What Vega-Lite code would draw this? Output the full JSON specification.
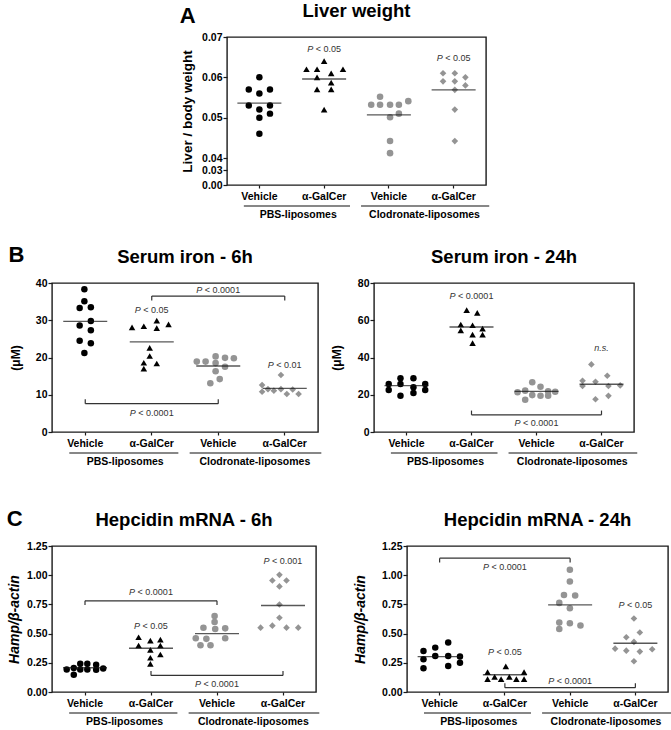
{
"$schema": "https://vega.github.io/schema/vega-lite/v6.json",
"background": "white",
"padding": {"left": 6, "top": 0, "right": 0, "bottom": 0},
"datasets": {
"strip": [{"x1":0.76,"x2":2.4,"xm":1.6,"label":"PBS-liposomes"},{"x1":2.57,"x2":4.55,"xm":3.55,"label":"Clodronate-liposomes"}],
"A_pts": [
{"g":"1","j":0,"v":0.060},{"g":"1","j":-1.8,"v":0.057},{"g":"1","j":1.8,"v":0.057},{"g":"1","j":0,"v":0.056},{"g":"1","j":-1.8,"v":0.053},{"g":"1","j":1.8,"v":0.053},{"g":"1","j":0,"v":0.052},{"g":"1","j":1.8,"v":0.051},{"g":"1","j":0,"v":0.050},{"g":"1","j":0,"v":0.046},
{"g":"2","j":0,"v":0.064},{"g":"2","j":-3,"v":0.062},{"g":"2","j":-1.2,"v":0.062},{"g":"2","j":3.2,"v":0.062},{"g":"2","j":-1.2,"v":0.060},{"g":"2","j":1.2,"v":0.061},{"g":"2","j":1.2,"v":0.0587},{"g":"2","j":-1.2,"v":0.057},{"g":"2","j":1.2,"v":0.057},{"g":"2","j":0,"v":0.052},
{"g":"3","j":-1.5,"v":0.0552},{"g":"3","j":-3,"v":0.0532},{"g":"3","j":-1.5,"v":0.0532},{"g":"3","j":0.2,"v":0.0532},{"g":"3","j":1.7,"v":0.0532},{"g":"3","j":3.3,"v":0.0541},{"g":"3","j":0.2,"v":0.0501},{"g":"3","j":1.7,"v":0.0510},{"g":"3","j":0.2,"v":0.0442},{"g":"3","j":0.2,"v":0.0412},
{"g":"4","j":-1.8,"v":0.061},{"g":"4","j":0.2,"v":0.061},{"g":"4","j":2,"v":0.060},{"g":"4","j":-1.8,"v":0.059},{"g":"4","j":0.2,"v":0.059},{"g":"4","j":2,"v":0.058},{"g":"4","j":0.2,"v":0.0569},{"g":"4","j":0.2,"v":0.052},{"g":"4","j":0.2,"v":0.0442}],
"A_mean": [{"g":"1","m":0.0536},{"g":"2","m":0.0596},{"g":"3","m":0.0507},{"g":"4","m":0.0569}],
"A_ann": [{"g":"2","y":0.0670,"t":"< 0.05"},{"g":"4","y":0.0649,"t":"< 0.05"}],
"BL_pts": [
{"g":"1","j":0,"v":38.3},{"g":"1","j":0,"v":35.1},{"g":"1","j":-0.8,"v":33.3},{"g":"1","j":1.1,"v":33.5},{"g":"1","j":1.1,"v":29.8},{"g":"1","j":-0.8,"v":28.6},{"g":"1","j":1.1,"v":27.3},{"g":"1","j":-0.8,"v":24.5},{"g":"1","j":1.1,"v":23.8},{"g":"1","j":0,"v":21.2},
{"g":"2","j":-3.2,"v":28.1},{"g":"2","j":-1.2,"v":28.4},{"g":"2","j":1,"v":29.9},{"g":"2","j":1,"v":27.9},{"g":"2","j":3,"v":28.9},{"g":"2","j":-0.2,"v":22.6},{"g":"2","j":-0.2,"v":20.4},{"g":"2","j":-1.2,"v":18.6},{"g":"2","j":1,"v":18.4},{"g":"2","j":-1.2,"v":17.0},
{"g":"3","j":-3.5,"v":18.9},{"g":"3","j":-2,"v":18.9},{"g":"3","j":-0.3,"v":20.3},{"g":"3","j":-0.3,"v":18.5},{"g":"3","j":1.3,"v":19.9},{"g":"3","j":2.8,"v":19.8},{"g":"3","j":1.3,"v":17.5},{"g":"3","j":-0.3,"v":16.3},{"g":"3","j":-1.2,"v":13.1},{"g":"3","j":0.4,"v":14.2},
{"g":"4","j":-0.5,"v":15.3},{"g":"4","j":-3.7,"v":12.6},{"g":"4","j":-3.7,"v":10.8},{"g":"4","j":-2.7,"v":11.5},{"g":"4","j":-1.7,"v":11.1},{"g":"4","j":-0.5,"v":11.5},{"g":"4","j":0.5,"v":10.2},{"g":"4","j":1.5,"v":11.4},{"g":"4","j":2.5,"v":10.2}],
"BL_mean": [{"g":"1","m":29.7},{"g":"2","m":24.2},{"g":"3","m":17.7},{"g":"4","m":11.7}],
"BL_ann": [{"g":"2","y":32.8,"t":"< 0.05"},{"g":"4","y":18.0,"t":"< 0.01"},{"g":"3","y":38.0,"t":"< 0.0001"},{"g":"2","y":5.2,"t":"< 0.0001"}],
"BL_br": [{"a":"2","b":"4","y":36.5,"tip":35.3},{"a":"1","b":"3","y":7.6,"tip":8.8}],
"BR_pts": [
{"g":"1","j":-3,"v":25.8},{"g":"1","j":-3,"v":22.5},{"g":"1","j":-1,"v":28.8},{"g":"1","j":-1,"v":25.8},{"g":"1","j":-1,"v":19.5},{"g":"1","j":1.2,"v":28.8},{"g":"1","j":1.2,"v":24.0},{"g":"1","j":1.2,"v":20.9},{"g":"1","j":3.2,"v":25.8},{"g":"1","j":3.2,"v":22.5},
{"g":"2","j":-0.8,"v":65.4},{"g":"2","j":1,"v":64.0},{"g":"2","j":-1.8,"v":57.7},{"g":"2","j":0.2,"v":57.3},{"g":"2","j":-1.8,"v":54.6},{"g":"2","j":1.9,"v":55.5},{"g":"2","j":0.2,"v":52.3},{"g":"2","j":1.9,"v":52.3},{"g":"2","j":0.2,"v":47.7},
{"g":"3","j":-3.2,"v":21.3},{"g":"3","j":-1.9,"v":22.2},{"g":"3","j":-0.7,"v":26.7},{"g":"3","j":0.7,"v":24.3},{"g":"3","j":2,"v":21.8},{"g":"3","j":3.2,"v":21.6},{"g":"3","j":-1.9,"v":17.3},{"g":"3","j":-0.7,"v":19.8},{"g":"3","j":0.7,"v":19.5},{"g":"3","j":2,"v":19.5},
{"g":"4","j":-1.7,"v":36.3},{"g":"4","j":1,"v":30.2},{"g":"4","j":-3.2,"v":27.5},{"g":"4","j":-1,"v":27.0},{"g":"4","j":-3.2,"v":24.7},{"g":"4","j":1.2,"v":24.7},{"g":"4","j":3.2,"v":25.0},{"g":"4","j":-1,"v":17.6},{"g":"4","j":1.2,"v":19.4}],
"BR_mean": [{"g":"1","m":24.9},{"g":"2","m":56.4},{"g":"3","m":21.8},{"g":"4","m":25.6}],
"BR_ann": [{"g":"2","y":73.2,"t":"< 0.0001"},{"g":"4","y":45.0,"t":"n.s."},{"g":"3","y":5.0,"t":"< 0.0001"}],
"BR_br": [{"a":"2","b":"4","y":9.2,"tip":11.5}],
"CL_pts": [
{"g":"1","j":-3,"v":0.193},{"g":"1","j":-1.8,"v":0.205},{"g":"1","j":-1.8,"v":0.148},{"g":"1","j":-0.7,"v":0.241},{"g":"1","j":-0.7,"v":0.193},{"g":"1","j":0.5,"v":0.241},{"g":"1","j":0.5,"v":0.193},{"g":"1","j":2,"v":0.233},{"g":"1","j":2,"v":0.19},{"g":"1","j":3.2,"v":0.202},
{"g":"2","j":-2,"v":0.469},{"g":"2","j":0,"v":0.440},{"g":"2","j":1.7,"v":0.449},{"g":"2","j":-2,"v":0.398},{"g":"2","j":1.7,"v":0.398},{"g":"2","j":0,"v":0.361},{"g":"2","j":1.7,"v":0.321},{"g":"2","j":0,"v":0.293},{"g":"2","j":0,"v":0.241},
{"g":"3","j":-0.3,"v":0.65},{"g":"3","j":-0.3,"v":0.60},{"g":"3","j":-2.2,"v":0.55},{"g":"3","j":-0.2,"v":0.54},{"g":"3","j":1.5,"v":0.545},{"g":"3","j":-3.5,"v":0.46},{"g":"3","j":-1.7,"v":0.455},{"g":"3","j":1.5,"v":0.46},{"g":"3","j":-2.7,"v":0.40},{"g":"3","j":-1,"v":0.40},
{"g":"4","j":-0.5,"v":1.003},{"g":"4","j":-1.7,"v":0.955},{"g":"4","j":0.7,"v":0.955},{"g":"4","j":-0.5,"v":0.904},{"g":"4","j":-0.5,"v":0.749},{"g":"4","j":-0.5,"v":0.636},{"g":"4","j":-1.7,"v":0.568},{"g":"4","j":-3.7,"v":0.551},{"g":"4","j":0.7,"v":0.551},{"g":"4","j":2.7,"v":0.551}],
"CL_mean": [{"g":"1","m":0.207},{"g":"2","m":0.375},{"g":"3","m":0.50},{"g":"4","m":0.74}],
"CL_ann": [{"g":"2","y":0.5625,"t":"< 0.05"},{"g":"4","y":1.119,"t":"< 0.001"},{"g":"2","y":0.852,"t":"< 0.0001"},{"g":"3","y":0.065,"t":"< 0.0001"}],
"CL_br": [{"a":"1","b":"3","y":0.781,"tip":0.744},{"a":"2","b":"4","y":0.142,"tip":0.179}],
"CR_pts": [
{"g":"1","j":-2.7,"v":0.351},{"g":"1","j":-0.7,"v":0.38},{"g":"1","j":1.5,"v":0.423},{"g":"1","j":-2.7,"v":0.28},{"g":"1","j":-0.7,"v":0.309},{"g":"1","j":1.5,"v":0.309},{"g":"1","j":3.5,"v":0.303},{"g":"1","j":-2.7,"v":0.203},{"g":"1","j":1.5,"v":0.223},{"g":"1","j":3.5,"v":0.251},
{"g":"2","j":-2.9,"v":0.17},{"g":"2","j":-2.9,"v":0.11},{"g":"2","j":-1.7,"v":0.13},{"g":"2","j":-0.6,"v":0.11},{"g":"2","j":0.2,"v":0.22},{"g":"2","j":0.8,"v":0.13},{"g":"2","j":2,"v":0.11},{"g":"2","j":3.3,"v":0.17},{"g":"2","j":3.3,"v":0.11},
{"g":"3","j":0,"v":1.046},{"g":"3","j":0,"v":0.946},{"g":"3","j":-1,"v":0.831},{"g":"3","j":0.9,"v":0.826},{"g":"3","j":-1.8,"v":0.763},{"g":"3","j":0,"v":0.717},{"g":"3","j":-1.8,"v":0.594},{"g":"3","j":0,"v":0.589},{"g":"3","j":1.8,"v":0.569},{"g":"3","j":-1.8,"v":0.54},
{"g":"4","j":-0.2,"v":0.629},{"g":"4","j":-1.5,"v":0.469},{"g":"4","j":0.8,"v":0.509},{"g":"4","j":-0.2,"v":0.429},{"g":"4","j":-3.4,"v":0.371},{"g":"4","j":-1.5,"v":0.354},{"g":"4","j":0.8,"v":0.346},{"g":"4","j":2.9,"v":0.366},{"g":"4","j":-0.2,"v":0.263}],
"CR_mean": [{"g":"1","m":0.303},{"g":"2","m":0.148},{"g":"3","m":0.746},{"g":"4","m":0.417}],
"CR_ann": [{"g":"2","y":0.346,"t":"< 0.05"},{"g":"4","y":0.743,"t":"< 0.05"},{"g":"2","y":1.066,"t":"< 0.0001"},{"g":"3","y":0.094,"t":"< 0.0001"}],
"CR_br": [{"a":"1","b":"3","y":1.146,"tip":1.109},{"a":"2","b":"4","y":0.037,"tip":0.074}]
},
"spacing": 22,
"vconcat": [
{"spacing": 0, "hconcat": [
 {"width": 127, "height": 10, "data": {"values": []}, "mark": "point", "view": {"stroke": null, "fill": "#ffffff"}},
 {"title": {"text": "A", "anchor": "start", "frame": "bounds", "fontSize": 22, "dy": 27, "offset": 0}, "spacing": 0, "vconcat": [
  {"width": 259, "height": 148, "title": {"text": "Liver weight"}, "layer": [
   {"data": {"name": "A_pts"}, "mark": {"type": "point", "filled": true, "opacity": 1},
    "encoding": {
     "x": {"field": "g", "type": "nominal", "scale": {"domain": ["1","2","3","4"], "paddingInner": 0, "paddingOuter": 0}, "axis": {"title": null, "labelAngle": 0, "bandPosition": 0.5, "labelExpr": "datum.value=='1'||datum.value=='3'?'Vehicle':'α-GalCer'"}},
     "xOffset": {"field": "j", "type": "quantitative", "scale": {"domain": [-5.5, 5.5]}},
     "y": {"field": "v", "type": "quantitative", "scale": {"domain": [0, 0.03, 0.04, 0.07], "range": [148, 133, 121, 0], "nice": false, "zero": false}, "axis": {"values": [0, 0.03, 0.04, 0.05, 0.06, 0.07], "tickCount": 20, "format": ".2f", "labelOverlap": false, "title": "Liver / body weight", "titleFontSize": 13.5, "titlePadding": 7}},
     "shape": {"field": "g", "type": "nominal", "scale": {"domain": ["1","2","3","4"], "range": ["circle","triangle-up","circle","diamond"]}, "legend": null},
     "color": {"field": "g", "type": "nominal", "scale": {"domain": ["1","2","3","4"], "range": ["#000000","#000000","#949494","#949494"]}, "legend": null},
     "size": {"field": "g", "type": "ordinal", "scale": {"domain": ["1","2","3","4"], "range": [42, 44, 42, 34]}, "legend": null}}},
   {"data": {"name": "A_mean"}, "mark": {"type": "tick", "color": "#111", "thickness": 1.4, "size": 44}, "encoding": {"x": {"field": "g", "type": "nominal"}, "y": {"field": "m", "type": "quantitative"}}},
   {"data": {"name": "A_ann"}, "transform": [{"filter": "length(datum.t)==6"}], "mark": {"type": "text", "style": "pv", "text": "P", "dx": -10.9}, "encoding": {"x": {"field": "g", "type": "nominal"}, "y": {"field": "y", "type": "quantitative"}}},
   {"data": {"name": "A_ann"}, "transform": [{"filter": "length(datum.t)==6"}], "mark": {"type": "text", "style": "pr", "dx": -8.4}, "encoding": {"x": {"field": "g", "type": "nominal"}, "y": {"field": "y", "type": "quantitative"}, "text": {"field": "t"}}}
  ]},
  {"width": 259, "height": 18, "data": {"name": "strip"}, "view": {"stroke": null, "fill": "#ffffff"}, "layer": [
   {"mark": {"type": "rule", "color": "#111", "strokeWidth": 1.2}, "encoding": {"x": {"field": "x1", "type": "quantitative", "scale": {"domain": [0.5, 4.5], "nice": false, "zero": false}, "axis": null}, "x2": {"field": "x2"}, "y": {"datum": 0.833, "type": "quantitative", "scale": {"domain": [0, 1]}, "axis": null}}},
   {"mark": {"type": "text", "fontWeight": "bold", "fontSize": 10.5, "baseline": "middle", "color": "#000"}, "encoding": {"x": {"field": "xm", "type": "quantitative"}, "y": {"datum": 0.333, "type": "quantitative"}, "text": {"field": "label"}}}
  ]}
 ]}
]},
{"spacing": 39, "vconcat": [
{"spacing": 7, "hconcat": [
 {"title": {"text": "B", "anchor": "start", "frame": "bounds", "fontSize": 22, "dy": 20, "offset": 0}, "spacing": 0, "vconcat": [
  {"width": 266, "height": 149, "title": {"text": "Serum iron - 6h"}, "layer": [
   {"data": {"name": "BL_pts"}, "mark": {"type": "point", "filled": true, "opacity": 1},
    "encoding": {
     "x": {"field": "g", "type": "nominal", "scale": {"domain": ["1","2","3","4"], "paddingInner": 0, "paddingOuter": 0}, "axis": {"title": null, "labelAngle": 0, "bandPosition": 0.5, "labelExpr": "datum.value=='1'||datum.value=='3'?'Vehicle':'α-GalCer'"}},
     "xOffset": {"field": "j", "type": "quantitative", "scale": {"domain": [-5.5, 5.5]}},
     "y": {"field": "v", "type": "quantitative", "scale": {"domain": [0, 40], "nice": false}, "axis": {"values": [0, 10, 20, 30, 40], "tickCount": 20, "labelOverlap": false, "title": "(μM)", "titleFontSize": 12, "titlePadding": 13}},
     "shape": {"field": "g", "type": "nominal", "scale": {"domain": ["1","2","3","4"], "range": ["circle","triangle-up","circle","diamond"]}, "legend": null},
     "color": {"field": "g", "type": "nominal", "scale": {"domain": ["1","2","3","4"], "range": ["#000000","#000000","#949494","#949494"]}, "legend": null},
     "size": {"field": "g", "type": "ordinal", "scale": {"domain": ["1","2","3","4"], "range": [42, 44, 42, 34]}, "legend": null}}},
   {"data": {"name": "BL_mean"}, "mark": {"type": "tick", "color": "#111", "thickness": 1.4, "size": 44}, "encoding": {"x": {"field": "g", "type": "nominal"}, "y": {"field": "m", "type": "quantitative"}}},
   {"data": {"name": "BL_br"}, "mark": {"type": "rule", "color": "#333", "strokeWidth": 1.2}, "encoding": {"x": {"field": "a", "type": "nominal"}, "x2": {"field": "b"}, "y": {"field": "y", "type": "quantitative"}}},
   {"data": {"name": "BL_br"}, "mark": {"type": "rule", "color": "#333", "strokeWidth": 1.2}, "encoding": {"x": {"field": "a", "type": "nominal"}, "y": {"field": "y", "type": "quantitative"}, "y2": {"field": "tip"}}},
   {"data": {"name": "BL_br"}, "mark": {"type": "rule", "color": "#333", "strokeWidth": 1.2}, "encoding": {"x": {"field": "b", "type": "nominal"}, "y": {"field": "y", "type": "quantitative"}, "y2": {"field": "tip"}}},
   {"data": {"name": "BL_ann"}, "transform": [{"filter": "length(datum.t)==6"}], "mark": {"type": "text", "style": "pv", "text": "P", "dx": -10.9}, "encoding": {"x": {"field": "g", "type": "nominal"}, "y": {"field": "y", "type": "quantitative"}}},
   {"data": {"name": "BL_ann"}, "transform": [{"filter": "length(datum.t)==6"}], "mark": {"type": "text", "style": "pr", "dx": -8.4}, "encoding": {"x": {"field": "g", "type": "nominal"}, "y": {"field": "y", "type": "quantitative"}, "text": {"field": "t"}}},
   {"data": {"name": "BL_ann"}, "transform": [{"filter": "length(datum.t)==8"}], "mark": {"type": "text", "style": "pv", "text": "P", "dx": -15.9}, "encoding": {"x": {"field": "g", "type": "nominal"}, "y": {"field": "y", "type": "quantitative"}}},
   {"data": {"name": "BL_ann"}, "transform": [{"filter": "length(datum.t)==8"}], "mark": {"type": "text", "style": "pr", "dx": -13.4}, "encoding": {"x": {"field": "g", "type": "nominal"}, "y": {"field": "y", "type": "quantitative"}, "text": {"field": "t"}}}
  ]},
  {"width": 266, "height": 18, "data": {"name": "strip"}, "view": {"stroke": null, "fill": "#ffffff"}, "layer": [
   {"mark": {"type": "rule", "color": "#111", "strokeWidth": 1.2}, "encoding": {"x": {"field": "x1", "type": "quantitative", "scale": {"domain": [0.5, 4.5], "nice": false, "zero": false}, "axis": null}, "x2": {"field": "x2"}, "y": {"datum": 0.833, "type": "quantitative", "scale": {"domain": [0, 1]}, "axis": null}}},
   {"mark": {"type": "text", "fontWeight": "bold", "fontSize": 10.5, "baseline": "middle", "color": "#000"}, "encoding": {"x": {"field": "xm", "type": "quantitative"}, "y": {"datum": 0.333, "type": "quantitative"}, "text": {"field": "label"}}}
  ]}
 ]},
 {"spacing": 0, "vconcat": [
  {"width": 260, "height": 149, "title": {"text": "Serum iron - 24h"}, "layer": [
   {"data": {"name": "BR_pts"}, "mark": {"type": "point", "filled": true, "opacity": 1},
    "encoding": {
     "x": {"field": "g", "type": "nominal", "scale": {"domain": ["1","2","3","4"], "paddingInner": 0, "paddingOuter": 0}, "axis": {"title": null, "labelAngle": 0, "bandPosition": 0.5, "labelExpr": "datum.value=='1'||datum.value=='3'?'Vehicle':'α-GalCer'"}},
     "xOffset": {"field": "j", "type": "quantitative", "scale": {"domain": [-5.5, 5.5]}},
     "y": {"field": "v", "type": "quantitative", "scale": {"domain": [0, 80], "nice": false}, "axis": {"values": [0, 20, 40, 60, 80], "tickCount": 20, "labelOverlap": false, "title": "(μM)", "titleFontSize": 12, "titlePadding": 14}},
     "shape": {"field": "g", "type": "nominal", "scale": {"domain": ["1","2","3","4"], "range": ["circle","triangle-up","circle","diamond"]}, "legend": null},
     "color": {"field": "g", "type": "nominal", "scale": {"domain": ["1","2","3","4"], "range": ["#000000","#000000","#949494","#949494"]}, "legend": null},
     "size": {"field": "g", "type": "ordinal", "scale": {"domain": ["1","2","3","4"], "range": [42, 44, 42, 34]}, "legend": null}}},
   {"data": {"name": "BR_mean"}, "mark": {"type": "tick", "color": "#111", "thickness": 1.4, "size": 44}, "encoding": {"x": {"field": "g", "type": "nominal"}, "y": {"field": "m", "type": "quantitative"}}},
   {"data": {"name": "BR_br"}, "mark": {"type": "rule", "color": "#333", "strokeWidth": 1.2}, "encoding": {"x": {"field": "a", "type": "nominal"}, "x2": {"field": "b"}, "y": {"field": "y", "type": "quantitative"}}},
   {"data": {"name": "BR_br"}, "mark": {"type": "rule", "color": "#333", "strokeWidth": 1.2}, "encoding": {"x": {"field": "a", "type": "nominal"}, "y": {"field": "y", "type": "quantitative"}, "y2": {"field": "tip"}}},
   {"data": {"name": "BR_br"}, "mark": {"type": "rule", "color": "#333", "strokeWidth": 1.2}, "encoding": {"x": {"field": "b", "type": "nominal"}, "y": {"field": "y", "type": "quantitative"}, "y2": {"field": "tip"}}},
   {"data": {"name": "BR_ann"}, "transform": [{"filter": "length(datum.t)==8"}], "mark": {"type": "text", "style": "pv", "text": "P", "dx": -15.9}, "encoding": {"x": {"field": "g", "type": "nominal"}, "y": {"field": "y", "type": "quantitative"}}},
   {"data": {"name": "BR_ann"}, "transform": [{"filter": "length(datum.t)==8"}], "mark": {"type": "text", "style": "pr", "dx": -13.4}, "encoding": {"x": {"field": "g", "type": "nominal"}, "y": {"field": "y", "type": "quantitative"}, "text": {"field": "t"}}},
   {"data": {"name": "BR_ann"}, "transform": [{"filter": "datum.t=='n.s.'"}], "mark": {"type": "text", "style": "ns"}, "encoding": {"x": {"field": "g", "type": "nominal"}, "y": {"field": "y", "type": "quantitative"}, "text": {"field": "t"}}}
  ]},
  {"width": 260, "height": 18, "data": {"name": "strip"}, "view": {"stroke": null, "fill": "#ffffff"}, "layer": [
   {"mark": {"type": "rule", "color": "#111", "strokeWidth": 1.2}, "encoding": {"x": {"field": "x1", "type": "quantitative", "scale": {"domain": [0.5, 4.5], "nice": false, "zero": false}, "axis": null}, "x2": {"field": "x2"}, "y": {"datum": 0.833, "type": "quantitative", "scale": {"domain": [0, 1]}, "axis": null}}},
   {"mark": {"type": "text", "fontWeight": "bold", "fontSize": 10.5, "baseline": "middle", "color": "#000"}, "encoding": {"x": {"field": "xm", "type": "quantitative"}, "y": {"datum": 0.333, "type": "quantitative"}, "text": {"field": "label"}}}
  ]}
 ]}
]},
{"spacing": 32, "hconcat": [
 {"title": {"text": "C", "anchor": "start", "frame": "bounds", "fontSize": 22, "dy": 21, "offset": 0}, "spacing": 0, "vconcat": [
  {"width": 264, "height": 146, "title": {"text": "Hepcidin mRNA - 6h"}, "layer": [
   {"data": {"name": "CL_pts"}, "mark": {"type": "point", "filled": true, "opacity": 1},
    "encoding": {
     "x": {"field": "g", "type": "nominal", "scale": {"domain": ["1","2","3","4"], "paddingInner": 0, "paddingOuter": 0}, "axis": {"title": null, "labelAngle": 0, "bandPosition": 0.5, "labelExpr": "datum.value=='1'||datum.value=='3'?'Vehicle':'α-GalCer'"}},
     "xOffset": {"field": "j", "type": "quantitative", "scale": {"domain": [-5.5, 5.5]}},
     "y": {"field": "v", "type": "quantitative", "scale": {"domain": [0, 1.25], "nice": false}, "axis": {"values": [0, 0.25, 0.5, 0.75, 1, 1.25], "tickCount": 20, "format": ".2f", "labelOverlap": false, "title": "Hamp/β-actin", "titleFontSize": 14, "titleFontStyle": "italic", "titlePadding": 5}},
     "shape": {"field": "g", "type": "nominal", "scale": {"domain": ["1","2","3","4"], "range": ["circle","triangle-up","circle","diamond"]}, "legend": null},
     "color": {"field": "g", "type": "nominal", "scale": {"domain": ["1","2","3","4"], "range": ["#000000","#000000","#949494","#949494"]}, "legend": null},
     "size": {"field": "g", "type": "ordinal", "scale": {"domain": ["1","2","3","4"], "range": [42, 44, 42, 34]}, "legend": null}}},
   {"data": {"name": "CL_mean"}, "mark": {"type": "tick", "color": "#111", "thickness": 1.4, "size": 44}, "encoding": {"x": {"field": "g", "type": "nominal"}, "y": {"field": "m", "type": "quantitative"}}},
   {"data": {"name": "CL_br"}, "mark": {"type": "rule", "color": "#333", "strokeWidth": 1.2}, "encoding": {"x": {"field": "a", "type": "nominal"}, "x2": {"field": "b"}, "y": {"field": "y", "type": "quantitative"}}},
   {"data": {"name": "CL_br"}, "mark": {"type": "rule", "color": "#333", "strokeWidth": 1.2}, "encoding": {"x": {"field": "a", "type": "nominal"}, "y": {"field": "y", "type": "quantitative"}, "y2": {"field": "tip"}}},
   {"data": {"name": "CL_br"}, "mark": {"type": "rule", "color": "#333", "strokeWidth": 1.2}, "encoding": {"x": {"field": "b", "type": "nominal"}, "y": {"field": "y", "type": "quantitative"}, "y2": {"field": "tip"}}},
   {"data": {"name": "CL_ann"}, "transform": [{"filter": "length(datum.t)==6"}], "mark": {"type": "text", "style": "pv", "text": "P", "dx": -10.9}, "encoding": {"x": {"field": "g", "type": "nominal"}, "y": {"field": "y", "type": "quantitative"}}},
   {"data": {"name": "CL_ann"}, "transform": [{"filter": "length(datum.t)==6"}], "mark": {"type": "text", "style": "pr", "dx": -8.4}, "encoding": {"x": {"field": "g", "type": "nominal"}, "y": {"field": "y", "type": "quantitative"}, "text": {"field": "t"}}},
   {"data": {"name": "CL_ann"}, "transform": [{"filter": "length(datum.t)==7"}], "mark": {"type": "text", "style": "pv", "text": "P", "dx": -13.4}, "encoding": {"x": {"field": "g", "type": "nominal"}, "y": {"field": "y", "type": "quantitative"}}},
   {"data": {"name": "CL_ann"}, "transform": [{"filter": "length(datum.t)==7"}], "mark": {"type": "text", "style": "pr", "dx": -10.9}, "encoding": {"x": {"field": "g", "type": "nominal"}, "y": {"field": "y", "type": "quantitative"}, "text": {"field": "t"}}},
   {"data": {"name": "CL_ann"}, "transform": [{"filter": "length(datum.t)==8"}], "mark": {"type": "text", "style": "pv", "text": "P", "dx": -15.9}, "encoding": {"x": {"field": "g", "type": "nominal"}, "y": {"field": "y", "type": "quantitative"}}},
   {"data": {"name": "CL_ann"}, "transform": [{"filter": "length(datum.t)==8"}], "mark": {"type": "text", "style": "pr", "dx": -13.4}, "encoding": {"x": {"field": "g", "type": "nominal"}, "y": {"field": "y", "type": "quantitative"}, "text": {"field": "t"}}}
  ]},
  {"width": 264, "height": 18, "data": {"name": "strip"}, "view": {"stroke": null, "fill": "#ffffff"}, "layer": [
   {"mark": {"type": "rule", "color": "#111", "strokeWidth": 1.2}, "encoding": {"x": {"field": "x1", "type": "quantitative", "scale": {"domain": [0.5, 4.5], "nice": false, "zero": false}, "axis": null}, "x2": {"field": "x2"}, "y": {"datum": 0.833, "type": "quantitative", "scale": {"domain": [0, 1]}, "axis": null}}},
   {"mark": {"type": "text", "fontWeight": "bold", "fontSize": 10.5, "baseline": "middle", "color": "#000"}, "encoding": {"x": {"field": "xm", "type": "quantitative"}, "y": {"datum": 0.333, "type": "quantitative"}, "text": {"field": "label"}}}
  ]}
 ]},
 {"spacing": 0, "vconcat": [
  {"width": 261, "height": 146, "title": {"text": "Hepcidin mRNA - 24h"}, "layer": [
   {"data": {"name": "CR_pts"}, "mark": {"type": "point", "filled": true, "opacity": 1},
    "encoding": {
     "x": {"field": "g", "type": "nominal", "scale": {"domain": ["1","2","3","4"], "paddingInner": 0, "paddingOuter": 0}, "axis": {"title": null, "labelAngle": 0, "bandPosition": 0.5, "labelExpr": "datum.value=='1'||datum.value=='3'?'Vehicle':'α-GalCer'"}},
     "xOffset": {"field": "j", "type": "quantitative", "scale": {"domain": [-5.5, 5.5]}},
     "y": {"field": "v", "type": "quantitative", "scale": {"domain": [0, 1.25], "nice": false}, "axis": {"values": [0, 0.25, 0.5, 0.75, 1, 1.25], "tickCount": 20, "format": ".2f", "labelOverlap": false, "title": "Hamp/β-actin", "titleFontSize": 14, "titleFontStyle": "italic", "titlePadding": 14}},
     "shape": {"field": "g", "type": "nominal", "scale": {"domain": ["1","2","3","4"], "range": ["circle","triangle-up","circle","diamond"]}, "legend": null},
     "color": {"field": "g", "type": "nominal", "scale": {"domain": ["1","2","3","4"], "range": ["#000000","#000000","#949494","#949494"]}, "legend": null},
     "size": {"field": "g", "type": "ordinal", "scale": {"domain": ["1","2","3","4"], "range": [42, 44, 42, 34]}, "legend": null}}},
   {"data": {"name": "CR_mean"}, "mark": {"type": "tick", "color": "#111", "thickness": 1.4, "size": 44}, "encoding": {"x": {"field": "g", "type": "nominal"}, "y": {"field": "m", "type": "quantitative"}}},
   {"data": {"name": "CR_br"}, "mark": {"type": "rule", "color": "#333", "strokeWidth": 1.2}, "encoding": {"x": {"field": "a", "type": "nominal"}, "x2": {"field": "b"}, "y": {"field": "y", "type": "quantitative"}}},
   {"data": {"name": "CR_br"}, "mark": {"type": "rule", "color": "#333", "strokeWidth": 1.2}, "encoding": {"x": {"field": "a", "type": "nominal"}, "y": {"field": "y", "type": "quantitative"}, "y2": {"field": "tip"}}},
   {"data": {"name": "CR_br"}, "mark": {"type": "rule", "color": "#333", "strokeWidth": 1.2}, "encoding": {"x": {"field": "b", "type": "nominal"}, "y": {"field": "y", "type": "quantitative"}, "y2": {"field": "tip"}}},
   {"data": {"name": "CR_ann"}, "transform": [{"filter": "length(datum.t)==6"}], "mark": {"type": "text", "style": "pv", "text": "P", "dx": -10.9}, "encoding": {"x": {"field": "g", "type": "nominal"}, "y": {"field": "y", "type": "quantitative"}}},
   {"data": {"name": "CR_ann"}, "transform": [{"filter": "length(datum.t)==6"}], "mark": {"type": "text", "style": "pr", "dx": -8.4}, "encoding": {"x": {"field": "g", "type": "nominal"}, "y": {"field": "y", "type": "quantitative"}, "text": {"field": "t"}}},
   {"data": {"name": "CR_ann"}, "transform": [{"filter": "length(datum.t)==8"}], "mark": {"type": "text", "style": "pv", "text": "P", "dx": -15.9}, "encoding": {"x": {"field": "g", "type": "nominal"}, "y": {"field": "y", "type": "quantitative"}}},
   {"data": {"name": "CR_ann"}, "transform": [{"filter": "length(datum.t)==8"}], "mark": {"type": "text", "style": "pr", "dx": -13.4}, "encoding": {"x": {"field": "g", "type": "nominal"}, "y": {"field": "y", "type": "quantitative"}, "text": {"field": "t"}}}
  ]},
  {"width": 261, "height": 18, "data": {"name": "strip"}, "view": {"stroke": null, "fill": "#ffffff"}, "layer": [
   {"mark": {"type": "rule", "color": "#111", "strokeWidth": 1.2}, "encoding": {"x": {"field": "x1", "type": "quantitative", "scale": {"domain": [0.5, 4.5], "nice": false, "zero": false}, "axis": null}, "x2": {"field": "x2"}, "y": {"datum": 0.833, "type": "quantitative", "scale": {"domain": [0, 1]}, "axis": null}}},
   {"mark": {"type": "text", "fontWeight": "bold", "fontSize": 10.5, "baseline": "middle", "color": "#000"}, "encoding": {"x": {"field": "xm", "type": "quantitative"}, "y": {"datum": 0.333, "type": "quantitative"}, "text": {"field": "label"}}}
  ]}
 ]}
]}
]}
],
"config": {
 "font": "Liberation Sans",
 "view": {"stroke": "#1a1a1a", "strokeWidth": 1.4},
 "axis": {"grid": false, "domain": false, "labelFontWeight": "bold", "labelFontSize": 10.5, "labelColor": "#000", "tickColor": "#1a1a1a", "tickWidth": 1.2, "titleFontWeight": "bold", "titleColor": "#000", "tickExtra": false},
 "axisX": {"tickSize": 3, "labelPadding": 3},
 "axisY": {"tickSize": 4, "labelPadding": 1, "labelOverlap": false, "labelFlush": false},
 "title": {"fontSize": 18.5, "fontWeight": "bold", "color": "#000", "offset": 12, "baseline": "alphabetic", "frame": "group"},
 "style": {
  "pv": {"fontStyle": "italic", "align": "right", "baseline": "middle", "fontSize": 9, "color": "#333"},
  "pr": {"align": "left", "baseline": "middle", "fontSize": 9, "color": "#333"},
  "ns": {"fontStyle": "italic", "align": "center", "baseline": "middle", "fontSize": 9, "color": "#333"}
 }
}
}
